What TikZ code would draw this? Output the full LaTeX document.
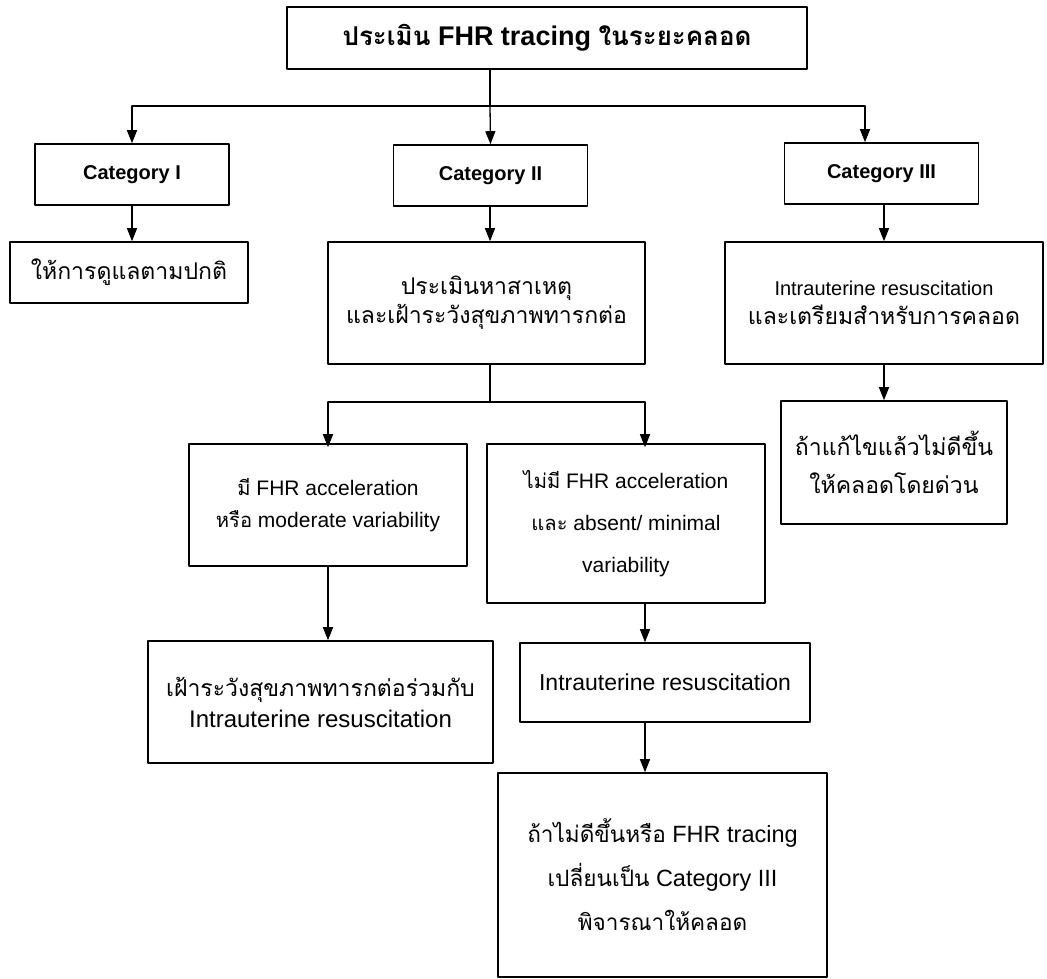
\documentclass[tikz,border=0pt]{standalone}
\usepackage{fontspec}
\setmainfont{Liberation Sans}
\newfontfamily\thaifont[Script=Thai,Scale=0.96]{Loma}
\newcommand{\thtxt}[1]{{\thaifont #1}}
\usetikzlibrary{arrows.meta}

\begin{document}
\begin{tikzpicture}[line cap=round,line join=round,>={Triangle[length=13pt,width=10pt]},x=1pt,y=-1pt]
                \tikzset{box/.style={draw,line width=1.6pt,align=center,inner sep=0pt},
                         link/.style={line width=1.3pt},
                         catbox/.style={box,minimum width=194,minimum height=61,font=\bfseries\fontsize{20}{24}\selectfont}}
                \useasboundingbox (0,0) rectangle (1047,978);
                % first rows
                \node[box,minimum width=520,minimum height=62,font=\bfseries\fontsize{27}{30}\selectfont] (top) at (547,38) {\thtxt{ประเมิน} FHR tracing \thtxt{ในระยะคลอด}};
                \node[catbox] (cat1) at (132,174.5) {Category I};
                \node[catbox] (cat2) at (490.5,175.5) {Category II};
                \node[catbox] (cat3) at (881.5,173.5) {Category III};
                \node[box,minimum width=238,minimum height=61,font=\fontsize{24}{30}\selectfont] (care) at (129,272.5) {\thtxt{ให้การดูแลตามปกติ}};
                \node[box,minimum width=317,minimum height=122,font=\fontsize{24}{29}\selectfont] (eval) at (486.5,303) {\thtxt{ประเมินหาสาเหตุ}\\\thtxt{และเฝ้าระวังสุขภาพทารกต่อ}};
                \node[box,minimum width=318,minimum height=122,font=\fontsize{24}{29}\selectfont] (prep) at (884,303) {{\fontsize{20}{29}\selectfont Intrauterine resuscitation}\\\thtxt{และเตรียมสำหรับการคลอด}};
                \node[box,minimum width=226,minimum height=123,font=\fontsize{24}{38}\selectfont] (fail3) at (894,462.5) {\thtxt{ถ้าแก้ไขแล้วไม่ดีขึ้น}\\\thtxt{ให้คลอดโดยด่วน}};
                % second branch
                \node[box,minimum width=278,minimum height=122,font=\fontsize{21}{32}\selectfont] (accel) at (328,505) {\thtxt{มี} FHR acceleration\\\thtxt{หรือ} moderate variability};
                \node[box,minimum width=278,minimum height=159,font=\fontsize{21}{42}\selectfont] (noaccel) at (626,523.5) {\thtxt{ไม่มี} FHR acceleration\\\thtxt{และ} absent/ minimal\\variability};
                \node[box,minimum width=345,minimum height=122,font=\fontsize{24}{31}\selectfont] (watch) at (320.5,702) {\thtxt{เฝ้าระวังสุขภาพทารกต่อร่วมกับ}\\Intrauterine resuscitation};
                \node[box,minimum width=290,minimum height=79,font=\fontsize{23}{28}\selectfont] (resus) at (665,682.5) {Intrauterine resuscitation};
                \node[box,minimum width=329,minimum height=204,font=\fontsize{23.5}{44}\selectfont] (deliver) at (662.5,875) {\thtxt{ถ้าไม่ดีขึ้นหรือ} FHR tracing\\\thtxt{เปลี่ยนเป็น} Category III\\\thtxt{พิจารณาให้คลอด}};
                % connectors
                \coordinate (fork) at (490,106);
                \coordinate (fork3) at (865,106);
                \coordinate (split) at (490,402);
                \coordinate (drop) at (645,402);
                \draw[link] (top.south -| fork) -- (fork);
                \draw[link] (fork -| cat1) -- (fork3);
                \draw[link,->] (fork -| cat1) -- (cat1.north);
                \draw[link,->] (fork) -- (cat2.north);
                \draw[link,->] (fork3) -- (fork3 |- cat3.north);
                \draw[link,->] (cat1.south) -- (cat1.south |- care.north);
                \draw[link,->] (cat2.south -| split) -- (eval.north -| split);
                \draw[link,->] (cat3.south -| prep) -- (prep.north);
                \draw[link,->] (prep.south) -- (fail3.north -| prep);
                \draw[link] (eval.south -| split) -- (split);
                \draw[link] (split -| accel) -- (drop);
                \draw[link,->] (split -| accel) -- ([yshift=-4pt]accel.north);
                \draw[link,->] (drop) -- ([yshift=-4pt]drop |- noaccel.north);
                \draw[link,->] (accel.south) -- (watch.north -| accel);
                \draw[link,->] (noaccel.south -| drop) -- (drop |- resus.north);
                \draw[link,->] (resus.south -| drop) -- (drop |- deliver.north);
            \end{tikzpicture}
\end{document}
